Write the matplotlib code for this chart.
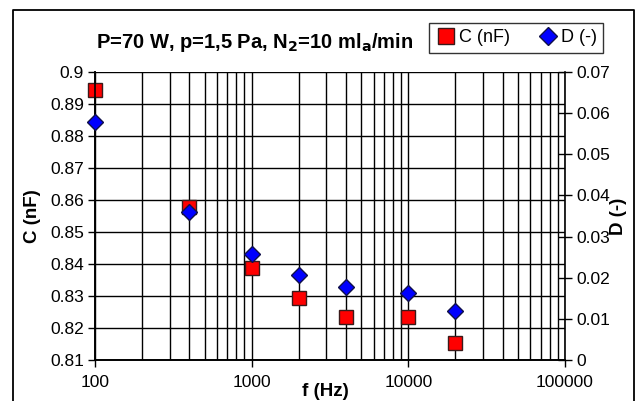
import matplotlib.pyplot as plt
from matplotlib.lines import Line2D
from matplotlib.ticker import LogLocator, FixedLocator, NullFormatter, FuncFormatter

f_hz = [100, 400, 1000, 2000, 4000, 10000, 20000]
c_nf = [0.8944, 0.8578, 0.8386, 0.8294, 0.8234, 0.8234, 0.8153]
d_val = [0.0579, 0.0360, 0.0258, 0.0207, 0.0178, 0.0163, 0.0119]

c_ticks = [0.81, 0.82, 0.83, 0.84, 0.85, 0.86, 0.87, 0.88, 0.89, 0.9]
d_ticks = [0, 0.01, 0.02, 0.03, 0.04, 0.05, 0.06, 0.07]

plt.rcParams['font.family'] = ['Liberation Sans', 'DejaVu Sans']

fig = plt.figure(figsize=(6.43, 4.01), dpi=100)
ax = fig.add_axes([95 / 643, 1 - 360 / 401, (565 - 95) / 643, (360 - 72) / 401])
ax2 = ax.twinx()

ax.set_xscale('log')
ax.set_xlim(100, 100000)
ax.set_ylim(0.81, 0.9)
ax2.set_ylim(0, 0.07)

ax.xaxis.set_major_locator(FixedLocator([100, 1000, 10000, 100000]))
ax.xaxis.set_major_formatter(FuncFormatter(lambda v, p: f'{v:.0f}'))
ax.xaxis.set_minor_locator(LogLocator(base=10, subs=range(2, 10)))
ax.xaxis.set_minor_formatter(NullFormatter())
ax.set_yticks(c_ticks)
ax.set_yticklabels([f'{t:g}' for t in c_ticks])
ax2.set_yticks(d_ticks)
ax2.set_yticklabels([f'{t:g}' for t in d_ticks])

ax.grid(True, which='major', axis='both', color='black', lw=1)
ax.grid(True, which='minor', axis='x', color='black', lw=1)
ax.set_axisbelow(True)

ax.tick_params(axis='x', which='major', direction='out', length=5, width=1, labelsize=12.5, pad=6)
ax.tick_params(axis='x', which='minor', length=0)
ax.tick_params(axis='y', direction='out', length=5, width=1, labelsize=12.5, pad=3)
ax2.tick_params(axis='y', direction='inout', length=10, width=1, labelsize=12.5, pad=3)

for a in (ax, ax2):
    for s in a.spines.values():
        s.set_linewidth(1.2)
    a.spines['top'].set_visible(False)
    a.spines['right'].set_visible(a is ax2)

ax.plot(f_hz, c_nf, ls='none', marker='s', ms=10.5, mfc='#ff0000', mec='#3a1a1a', mew=1, zorder=3, clip_on=False)
ax2.plot(f_hz, d_val, ls='none', marker='D', ms=8.5, mfc='#0000ff', mec='#10104a', mew=1, zorder=4, clip_on=False)

ax.set_xlabel('f (Hz)', fontsize=13.5, fontweight='bold')
ax.xaxis.set_label_coords(0.49, -0.08)
ax.set_ylabel('C (nF)', fontsize=13.5, fontweight='bold')
ax.yaxis.set_label_coords(-0.115, 0.5)
ax2.set_ylabel('D (-)', fontsize=13.5, fontweight='bold')
ax2.yaxis.set_label_coords(1.095, 0.5)

fig.text(255 / 643, 1 - 42 / 401, 'P=70 W, p=1,5 Pa, N$_\\mathbf{2}$=10 ml$_\\mathbf{a}$/min',
         ha='center', va='center', fontsize=14.5, fontweight='bold')

handles = [
    Line2D([], [], ls='none', marker='s', ms=11, mfc='#ff0000', mec='#3a1a1a', mew=1),
    Line2D([], [], ls='none', marker='D', ms=9, mfc='#0000ff', mec='#10104a', mew=1),
]
fig.legend(handles, ['C (nF)', 'D (-)'], loc='center', bbox_to_anchor=(516 / 643, 1 - 38 / 401),
           ncol=2, fontsize=13, frameon=True, fancybox=False, edgecolor='black',
           handletextpad=0.1, columnspacing=1.5, handlelength=1.2, borderpad=0.35)

# outer chart frame
fig.add_artist(Line2D([13 / 643, 13 / 643, 634 / 643, 634 / 643], [0, 1 - 10 / 401, 1 - 10 / 401, 0],
                      transform=fig.transFigure, color='black', lw=1.3))

fig.savefig('out.png', dpi=100)
